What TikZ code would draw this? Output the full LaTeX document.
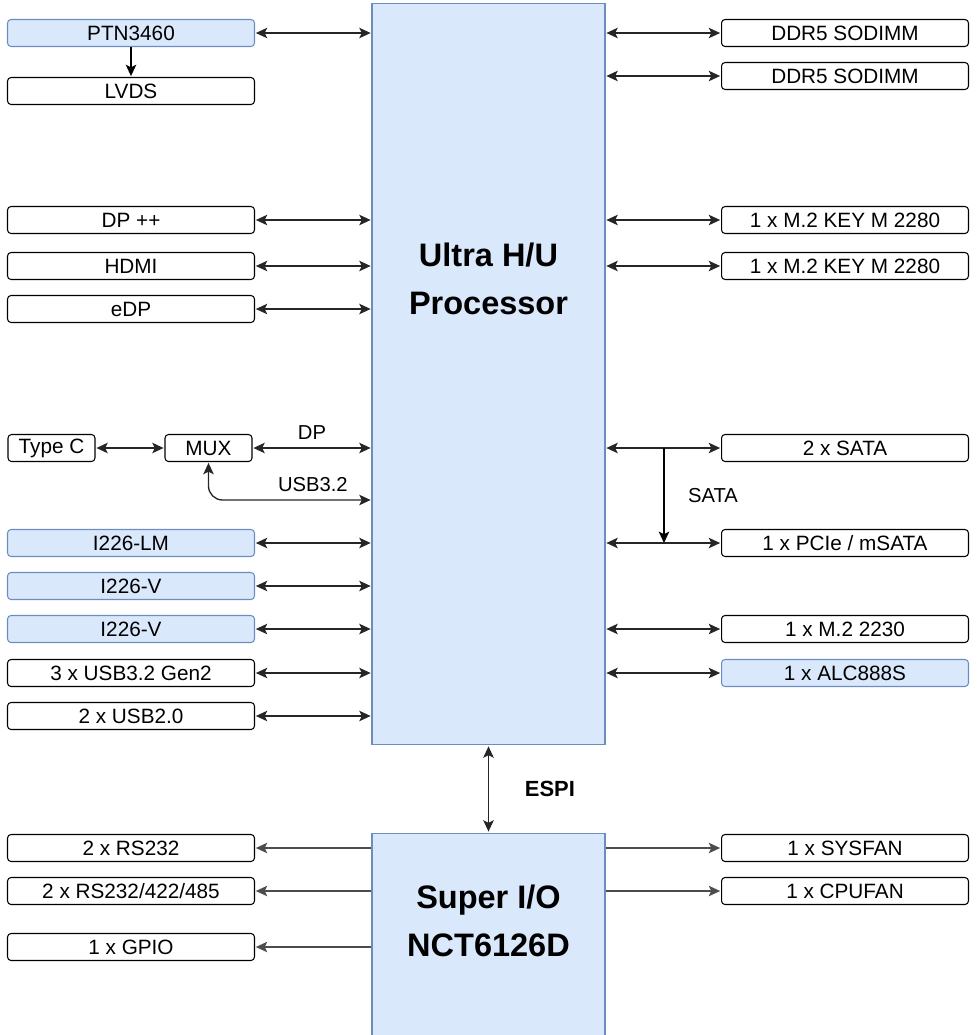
\documentclass[tikz,border=0pt]{standalone}
\usepackage{fontspec}
\setmainfont{Liberation Sans}
\usetikzlibrary{
  arrows.meta,
  positioning
}
\definecolor{hubfill}{RGB}{218,232,252}
\definecolor{hubline}{RGB}{108,142,191}

\tikzset{
  port/.style={draw, rounded corners=2pt, minimum width=4.94cm, minimum height=0.54cm,
    inner sep=0pt, line width=0.6pt, font=\fontsize{11.8}{14}\selectfont},
  hubport/.style={port, fill=hubfill, draw=hubline},
  chip/.style={draw=hubline, fill=hubfill, line width=0.6pt, inner sep=0pt, minimum width=4.66cm},
  chiptitle/.style={align=center, font=\fontsize{18.5}{27.3}\selectfont\bfseries},
  link/.style={{Stealth[length=6.5pt,width=6pt,inset=1.5pt]}-{Stealth[length=6.5pt,width=6pt,inset=1.5pt]},
    line width=0.75pt, draw=black!85, shorten <=0.5pt, shorten >=0.5pt},
  outlink/.style={-{Stealth[length=6.5pt,width=6pt,inset=1.5pt]}, line width=0.75pt, draw=black!70,
    shorten >=0.5pt},
  buslabel/.style={font=\fontsize{11.5}{14}\selectfont}
}

\begin{document}
\begin{tikzpicture}[x=0.02cm, y=-0.02cm]
  \useasboundingbox (0,0) rectangle (977,1035);

  % main chips
  \node[chip, minimum height=14.84cm] (cpu) at (488.5,374) {};
  \node[chiptitle] (cputitle) at (488.5,279) {Ultra H/U\\Processor};
  \node[chip, minimum height=4.12cm] (sio) at (488.5,936) {};
  \node[chiptitle] (siotitle) at (488.5,921) {Super I/O\\NCT6126D};

  % left side
  \node[hubport] (ptn) at (131,33) {PTN3460};
  \node[port] (lvds) at (131,91) {LVDS};
  \node[port] (dp) at (131,220) {DP ++};
  \node[port] (hdmi) at (131,266) {HDMI};
  \node[port] (edp) at (131,309) {eDP};
  \node[port, minimum width=1.74cm] (typec) at (51.5,448) {Type C};
  \node[port, minimum width=1.74cm] (mux) at (208.5,448) {MUX};
  \node[hubport] (lanlm) at (131,543) {I226-LM};
  \node[hubport] (lanv1) at (131,586) {I226-V};
  \node[hubport] (lanv2) at (131,629) {I226-V};
  \node[port] (usbthree) at (131,673) {3 x USB3.2 Gen2};
  \node[port] (usbtwo) at (131,716) {2 x USB2.0};

  % right side
  \node[port] (ddra) at (845,33) {DDR5 SODIMM};
  \node[port] (ddrb) at (845,76) {DDR5 SODIMM};
  \node[port] (mtwoa) at (845,220) {1 x M.2 KEY M 2280};
  \node[port] (mtwob) at (845,266) {1 x M.2 KEY M 2280};
  \node[port] (sata) at (845,448) {2 x SATA};
  \node[port] (pcie) at (845,543) {1 x PCIe / mSATA};
  \node[port] (mtwoc) at (845,629) {1 x M.2 2230};
  \node[hubport] (audio) at (845,673) {1 x ALC888S};

  % super i/o ports
  \node[port] (coma) at (131,848) {2 x RS232};
  \node[port] (comb) at (131,891) {2 x RS232/422/485};
  \node[port] (gpio) at (131,947) {1 x GPIO};
  \node[port] (sysfan) at (845,848) {1 x SYSFAN};
  \node[port] (cpufan) at (845,891) {1 x CPUFAN};

  % cpu links, left
  \draw[link] (ptn) -- (ptn -| cpu.west);
  \draw[outlink, draw=black] (ptn) -- (lvds);
  \foreach \p in {dp, hdmi, edp, lanlm, lanv1, lanv2, usbthree, usbtwo}
    \draw[link] (\p) -- (\p -| cpu.west);
  \draw[link] (typec) -- (mux);
  \draw[link] (mux) -- (mux -| cpu.west) node[buslabel, midway, above=1pt] {DP};
  \path (cpu.west) ++(0,126) coordinate (usbend);
  \draw[link, rounded corners=8pt] (mux.south) |- (usbend)
    node[buslabel, pos=0.82, above=1pt] {USB3.2};

  % cpu links, right
  \foreach \p in {ddra, ddrb, mtwoa, mtwob, sata, pcie, mtwoc, audio}
    \draw[link] (\p -| cpu.east) -- (\p);
  \path (sata.west) ++(-57,0) coordinate (satatap);
  \draw[outlink, draw=black, shorten >=0pt] (satatap) -- (satatap |- pcie)
    node[buslabel, midway, right=10pt] {SATA};

  % espi
  \draw[link] (cpu.south) -- (sio.north)
    node[midway, right=17pt, font=\fontsize{12.5}{14}\selectfont\bfseries] {ESPI};

  % super i/o links
  \foreach \p in {coma, comb, gpio}
    \draw[outlink] (\p -| sio.west) -- (\p);
  \foreach \p in {sysfan, cpufan}
    \draw[outlink] (\p -| sio.east) -- (\p);
\end{tikzpicture}
\end{document}
